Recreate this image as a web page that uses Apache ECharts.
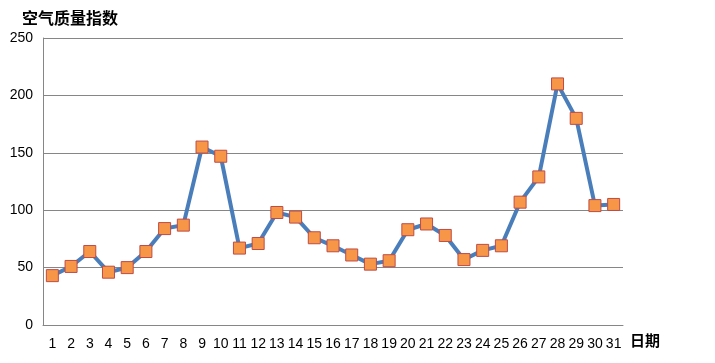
<!DOCTYPE html>
<html>
<head>
<meta charset="utf-8">
<script src="https://cdn.jsdelivr.net/npm/echarts@6/dist/echarts.min.js"></script>
<style>html,body{margin:0;padding:0;background:#fff}#c{width:715px;height:363px}</style>
</head>
<body>
<div id="c"></div>
<script>
var days = ['1','2','3','4','5','6','7','8','9','10','11','12','13','14','15','16','17','18','19','20','21','22','23','24','25','26','27','28','29','30','31'];
var aqi = [43,51,64,46,50,64,84,87,155,147,67,71,98,94,76,69,61,53,56,83,88,78,57,65,69,107,129,210,180,104,105];
var yTicks = [0,50,100,150,200,250];

var chart = echarts.init(document.getElementById('c'));
chart.setOption({
  animation: false,
  backgroundColor: '#fff',
  title: {
    text: '空气质量指数', left: 17, top: 5,
    textStyle: {fontFamily: 'Noto Sans CJK SC', fontSize: 16, fontWeight: 'bold', color: '#000'}
  },
  graphic: [{
    type: 'text', left: 630, top: 333,
    style: {text: '日期', fontFamily: 'Noto Sans CJK SC', fontSize: 15, fontWeight: 'bold', fill: '#000'}
  }],
  grid: {left: 43, right: 92, top: 38, bottom: 38, containLabel: false},
  xAxis: {
    type: 'category', data: days, boundaryGap: true,
    axisLine: {lineStyle: {color: '#868686', width: 1}},
    axisTick: {show: false},
    axisLabel: {interval: 0, margin: 12, fontFamily: 'Liberation Sans', fontSize: 14, color: '#000'}
  },
  yAxis: {
    type: 'value', min: yTicks[0], max: yTicks[yTicks.length-1], interval: 50,
    axisLine: {show: true, lineStyle: {color: '#868686', width: 1}},
    axisTick: {show: false},
    splitLine: {lineStyle: {color: '#868686', width: 1}},
    axisLabel: {margin: 10, fontFamily: 'Liberation Sans', fontSize: 14, color: '#000'}
  },
  series: [{
    type: 'line', data: aqi,
    symbol: 'rect', symbolSize: 12,
    lineStyle: {color: '#4a7ebb', width: 4},
    itemStyle: {color: '#f79646', borderColor: '#be4b48', borderWidth: 1}
  }]
});
</script>
</body>
</html>
